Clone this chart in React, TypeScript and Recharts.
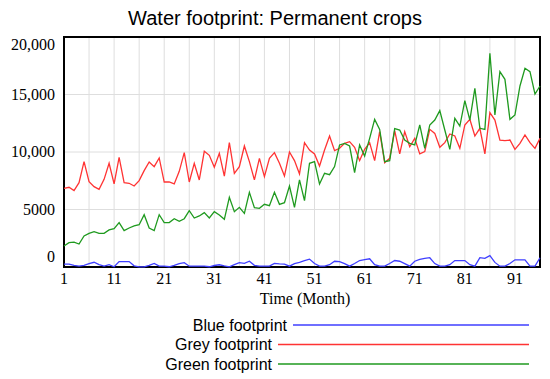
import { LineChart, Line, XAxis, YAxis, CartesianGrid, ReferenceArea } from "recharts";

// months 1..96
const months = Array.from({ length: 96 }, (_, i) => i + 1);

const blueFootprint = [
  257, 257, 134, 73, 150, 300, 410, 200, 73, 196,
  20, 471, 471, 471, 100, 12, 12, 150, 318, 73,
  73, 20, 150, 300, 379, 73, 73, 73, 73, 20,
  130, 196, 100, 20, 200, 379, 318, 501, 150, 73,
  73, 73, 318, 280, 257, 73, 300, 410, 550, 685,
  300, 73, 73, 200, 501, 471, 300, 73, 300, 562,
  640, 715, 200, 73, 73, 300, 562, 501, 300, 73,
  500, 654, 750, 807, 300, 73, 73, 200, 562, 562,
  562, 200, 73, 807, 746, 990, 400, 73, 73, 300,
  623, 623, 623, 73, 73, 807
];

const greyFootprint = [
  6840, 6930, 6640, 7330, 9160, 7420, 6990, 6750, 7620, 9020,
  7220, 9540, 7330, 7280, 7040, 7510, 8380, 9130, 8730, 9480,
  7390, 7390, 7220, 8320, 9940, 7390, 9020, 7570, 10060, 9710,
  8670, 9880, 7910, 10810, 8150, 8730, 10520, 9160, 7570, 9450,
  7860, 9450, 9940, 9020, 7910, 10000, 9250, 8090, 10810, 10170,
  9830, 8780, 10170, 11390, 10120, 10320, 10750, 10900, 10410, 9250,
  10230, 10810, 9250, 11770, 9070, 9450, 11860, 9830, 11770, 10460,
  11190, 9830, 10030, 11970, 11620, 10410, 10810, 11570, 11390, 10320,
  12350, 12840, 11390, 12060, 9830, 13420, 12780, 11040, 10990, 11040,
  10230, 10750, 11480, 10810, 10320, 11190
];

const greenFootprint = [
  1830, 2120, 2170, 2000, 2700, 2930, 3070, 2930, 2930, 3220,
  3330, 3860, 3160, 3390, 3570, 3680, 4550, 3390, 3160, 4550,
  3860, 3860, 4200, 3970, 4200, 4900, 4260, 4440, 4730, 4260,
  4810, 4520, 4150, 6060, 4810, 5190, 4670, 6490, 5160, 5100,
  5450, 5330, 6490, 5450, 5590, 7040, 5190, 7570, 5770, 9020,
  9160, 7220, 8150, 8030, 8730, 10610, 10750, 10520, 8200, 10610,
  9650, 11190, 12840, 11970, 9160, 9250, 12030, 11910, 11040, 10750,
  10610, 12350, 10320, 12350, 12780, 13600, 11910, 10230, 12930, 12260,
  14460, 12780, 15540, 12060, 11970, 18580, 13220, 16990, 16320, 12840,
  13220, 15740, 17280, 16990, 15040, 15740
];

const xTicks = [1, 6, 11, 16, 21, 26, 31, 36, 41, 46, 51, 56, 61, 66, 71, 76, 81, 86, 91, 96];
const xLabels = [1, 11, 21, 31, 41, 51, 61, 71, 81, 91];
const yTicks = [0, 5000, 10000, 15000, 20000];

const series = [
  { key: "blue", name: "Blue footprint", color: "#3f3fff" },
  { key: "grey", name: "Grey footprint", color: "#ff3333" },
  { key: "green", name: "Green footprint", color: "#1f9a1f" }
];

const data = months.map((m, i) => ({
  month: m,
  blue: blueFootprint[i],
  grey: greyFootprint[i],
  green: greenFootprint[i]
}));

const serif = "'Liberation Serif', 'Times New Roman', serif";
const sans = "'Liberation Sans', Arial, sans-serif";

function fmt(v: number) {
  if (v < 10000) return String(v);
  return String(v).replace(/\B(?=(\d{3})+(?!\d))/g, ",");
}

function XTick(props: any) {
  const { x, y, payload } = props;
  if (!xLabels.includes(payload.value)) return null;
  return (
    <text x={x} y={y + 17} textAnchor="middle" fontFamily={serif} fontSize={16} fill="#000">
      {payload.value}
    </text>
  );
}

function YTick(props: any) {
  const { x, y, payload } = props;
  let dy = 5;
  if (payload.value === 20000) dy = 13;
  if (payload.value === 0) dy = -5;
  return (
    <text x={x - 9} y={y + dy} textAnchor="end" fontFamily={serif} fontSize={16} fill="#000">
      {fmt(payload.value)}
    </text>
  );
}

function AxisTitle(props: any) {
  const vb = props.viewBox || {};
  return (
    <text x={vb.x + vb.width / 2 + 3} y={vb.y + 37} textAnchor="middle" fontFamily={serif} fontSize={16} fill="#000">
      Time (Month)
    </text>
  );
}

export default function App() {
  return (
    <div style={{ position: "absolute", left: 0, top: 0, width: 550, height: 379, background: "#fff" }}>
      <div
        style={{
          position: "absolute",
          left: 0,
          top: 5,
          width: 550,
          textAlign: "center",
          fontFamily: sans,
          fontSize: 20,
          lineHeight: "26px"
        }}>
        Water footprint: Permanent crops
      </div>
      <LineChart
        width={550}
        height={379}
        data={data}
        margin={{ top: 37, right: 10, bottom: 62, left: 0 }}>
        <CartesianGrid stroke="#dedede" strokeWidth={1} />
        <XAxis
          dataKey="month"
          type="number"
          domain={[1, 96]}
          ticks={xTicks}
          interval={0}
          tickSize={0}
          tickMargin={0}
          axisLine={false}
          height={50}
          tick={<XTick />}
          label={<AxisTitle />} />
        <YAxis
          type="number"
          domain={[0, 20000]}
          ticks={yTicks}
          interval={0}
          tickSize={0}
          tickMargin={0}
          axisLine={false}
          width={64}
          tick={<YTick />} />
        <ReferenceArea
          x1={1}
          x2={96}
          y1={0}
          y2={20000}
          fill="none"
          stroke="#000"
          strokeWidth={2}
          ifOverflow="visible" />
        {series.map((s) => (
          <Line
            key={s.key}
            type="linear"
            dataKey={s.key}
            name={s.name}
            stroke={s.color}
            strokeWidth={1.3}
            dot={false}
            isAnimationActive={false} />
        ))}
      </LineChart>
      <svg
        width={550}
        height={70}
        style={{ position: "absolute", left: 0, top: 309 }}>
        {series.map((s, i) => {
          const cy = 16 + i * 19.5;
          const textEnd = i === 0 ? 287 : 272;
          return (
            <g key={s.key}>
              <text x={textEnd} y={cy + 5.5} textAnchor="end" fontFamily={sans} fontSize={16} fill="#000">
                {s.name}
              </text>
              <line x1={textEnd + 6} x2={529} y1={cy} y2={cy} stroke={s.color} strokeWidth={1.3} />
            </g>
          );
        })}
      </svg>
    </div>
  );
}
